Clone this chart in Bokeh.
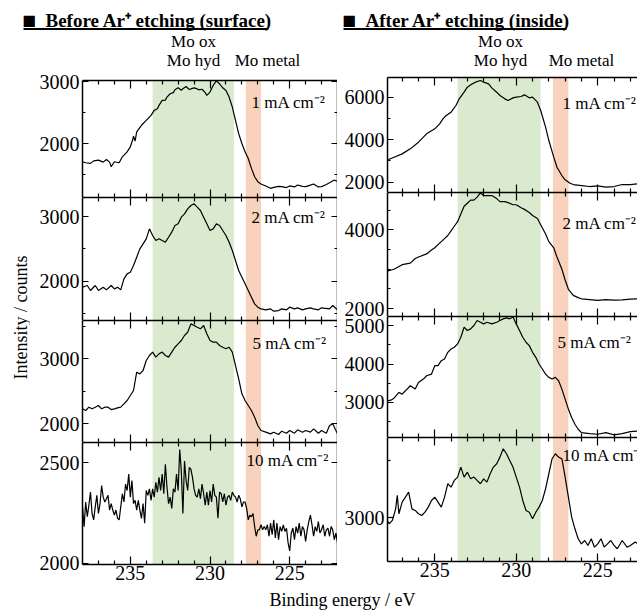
from math import pi

from bokeh.plotting import figure
from bokeh.layouts import row, column
from bokeh.models import Range1d, LinearAxis, FixedTicker, Label
from bokeh.embed import file_html
from bokeh.resources import INLINE

# ---------------------------------------------------------------------------
# Mo 3d XPS spectra: binding energy (eV) and intensity (counts)
# "b" = before Ar+ etching (surface), "a" = after Ar+ etching (inside)
# ---------------------------------------------------------------------------
be_b1 = [238.0, 237.8, 237.5, 237.3, 237.0, 236.7, 236.5, 236.3, 236.2, 236.0,
         235.7, 235.5, 235.2, 235.0, 234.85, 234.8, 234.7, 234.6, 234.3, 234.0,
         233.7, 233.5, 233.3, 233.2, 233.0, 232.8, 232.7, 232.5, 232.3, 232.2,
         232.0, 231.8, 231.7, 231.5, 231.3, 231.2, 231.0, 230.8, 230.7, 230.5,
         230.3, 230.2, 230.0, 229.8, 229.6, 229.4, 229.2, 229.0, 228.8, 228.6,
         228.4, 228.2, 228.0, 227.8, 227.6, 227.4, 227.2, 227.0, 226.8, 226.5,
         226.2, 226.0, 225.7, 225.5, 225.2, 225.0, 224.7, 224.5, 224.2, 224.0,
         223.7, 223.5, 223.2, 223.0, 222.7, 222.5, 222.2, 222.0]
cps_b1 = [1706, 1690, 1680, 1720, 1733, 1700, 1743, 1700, 1626, 1706,
          1690, 1786, 1866, 1947, 2060, 2120, 2040, 2187, 2294, 2374,
          2455, 2535, 2560, 2615, 2695, 2700, 2749, 2802, 2820, 2866,
          2898, 2860, 2882, 2920, 2870, 2882, 2898, 2880, 2866, 2875,
          2820, 2775, 2829, 2936, 3010, 2963, 2898, 2856, 2749, 2588,
          2374, 2160, 2000, 1866, 1759, 1599, 1465, 1385, 1348, 1316,
          1278, 1294, 1310, 1305, 1290, 1316, 1300, 1332, 1310, 1305,
          1330, 1348, 1300, 1305, 1340, 1369, 1412, 1385]

be_b2 = [238.0, 237.7, 237.5, 237.2, 237.0, 236.7, 236.5, 236.2, 236.0, 235.8,
         235.6, 235.4, 235.2, 235.0, 234.8, 234.6, 234.4, 234.2, 234.0, 233.8,
         233.6, 233.4, 233.2, 233.0, 232.8, 232.6, 232.4, 232.2, 232.0, 231.8,
         231.6, 231.4, 231.2, 231.0, 230.8, 230.6, 230.4, 230.2, 230.0, 229.8,
         229.6, 229.4, 229.2, 229.0, 228.8, 228.6, 228.4, 228.2, 228.0, 227.8,
         227.6, 227.4, 227.2, 227.0, 226.8, 226.5, 226.2, 226.0, 225.7, 225.5,
         225.2, 225.0, 224.7, 224.5, 224.2, 224.0, 223.7, 223.5, 223.2, 223.0,
         222.5, 222.3, 222.0]
cps_b2 = [1907, 1933, 1856, 1933, 1856, 1907, 1866, 1933, 1881, 1907,
          1866, 2036, 2113, 2139, 2242, 2371, 2500, 2577, 2655, 2809,
          2706, 2629, 2655, 2629, 2603, 2680, 2758, 2861, 2887, 2990,
          3041, 3119, 3170, 3196, 3144, 3093, 2990, 2887, 2784, 2809,
          2887, 2861, 2784, 2706, 2603, 2474, 2320, 2165, 2062, 1959,
          1856, 1753, 1649, 1598, 1572, 1557, 1572, 1536, 1546, 1572,
          1557, 1598, 1572, 1588, 1557, 1572, 1588, 1572, 1557, 1588,
          1572, 1624, 1557]

be_b5 = [238.0, 237.8, 237.6, 237.4, 237.2, 237.0, 236.8, 236.6, 236.4, 236.2,
         236.0, 235.8, 235.6, 235.4, 235.2, 235.0, 234.8, 234.6, 234.4, 234.2,
         234.0, 233.8, 233.6, 233.4, 233.2, 233.0, 232.8, 232.6, 232.4, 232.2,
         232.0, 231.8, 231.6, 231.4, 231.2, 231.0, 230.8, 230.6, 230.4, 230.2,
         230.0, 229.8, 229.6, 229.4, 229.2, 229.0, 228.8, 228.6, 228.4, 228.2,
         228.0, 227.8, 227.6, 227.4, 227.2, 227.0, 226.8, 226.5, 226.2, 226.0,
         225.7, 225.5, 225.2, 225.0, 224.7, 224.5, 224.2, 224.0, 223.7, 223.5,
         223.2, 223.0, 222.7, 222.5, 222.3, 222.0]
cps_b5 = [2231, 2205, 2256, 2231, 2256, 2282, 2231, 2256, 2256, 2220,
          2231, 2246, 2256, 2308, 2359, 2436, 2513, 2795, 2769, 2821,
          2974, 3051, 3103, 3026, 3077, 3103, 3051, 3026, 3103, 3179,
          3231, 3282, 3359, 3410, 3538, 3513, 3487, 3462, 3513, 3385,
          3282, 3256, 3256, 3205, 3179, 3154, 3179, 3103, 2897, 2692,
          2462, 2359, 2282, 2205, 2103, 1974, 1897, 1872, 1846, 1872,
          1836, 1887, 1856, 1897, 1856, 1908, 1872, 1897, 1872, 1923,
          1856, 1897, 1856, 1974, 2000, 1846]

be_b10 = [238.0, 237.9, 237.8, 237.7, 237.6, 237.5, 237.4, 237.3, 237.2, 237.1,
          237.0, 236.9, 236.8, 236.7, 236.6, 236.5, 236.4, 236.3, 236.2, 236.1,
          236.0, 235.9, 235.8, 235.7, 235.6, 235.5, 235.4, 235.3, 235.2, 235.1,
          235.0, 234.9, 234.8, 234.7, 234.6, 234.5, 234.4, 234.3, 234.2, 234.1,
          234.0, 233.9, 233.8, 233.7, 233.6, 233.5, 233.4, 233.3, 233.2, 233.1,
          233.0, 232.9, 232.8, 232.7, 232.6, 232.5, 232.4, 232.3, 232.2, 232.1,
          232.0, 231.9, 231.8, 231.7, 231.6, 231.5, 231.4, 231.3, 231.2, 231.1,
          231.0, 230.9, 230.8, 230.7, 230.6, 230.5, 230.4, 230.3, 230.2, 230.1,
          230.0, 229.9, 229.8, 229.7, 229.6, 229.5, 229.4, 229.3, 229.2, 229.1,
          229.0, 228.9, 228.8, 228.7, 228.6, 228.5, 228.4, 228.3, 228.2, 228.1,
          228.0, 227.9, 227.8, 227.7, 227.6, 227.5, 227.4, 227.3, 227.2, 227.1,
          227.0, 226.9, 226.8, 226.7, 226.6, 226.5, 226.4, 226.3, 226.2, 226.1,
          226.0, 225.9, 225.8, 225.7, 225.6, 225.5, 225.4, 225.3, 225.2, 225.1,
          225.0, 224.9, 224.8, 224.7, 224.6, 224.5, 224.4, 224.3, 224.2, 224.1,
          224.0, 223.9, 223.8, 223.7, 223.6, 223.5, 223.4, 223.3, 223.2, 223.1,
          223.0, 222.9, 222.8, 222.7, 222.6, 222.5, 222.4, 222.3, 222.2, 222.1,
          222.0]
cps_b10 = [2281, 2183, 2305, 2232, 2289, 2354, 2248, 2216, 2281, 2338,
           2248, 2297, 2386, 2329, 2305, 2321, 2338, 2265, 2297, 2265,
           2240, 2265, 2224, 2216, 2281, 2346, 2305, 2394, 2362, 2443,
           2329, 2411, 2297, 2313, 2265, 2313, 2265, 2224, 2297, 2200,
           2362, 2338, 2370, 2313, 2370, 2329, 2403, 2354, 2427, 2362,
           2443, 2346, 2492, 2378, 2297, 2329, 2273, 2370, 2354, 2443,
           2362, 2565, 2459, 2248, 2508, 2411, 2362, 2476, 2468, 2427,
           2370, 2338, 2329, 2370, 2321, 2394, 2346, 2289, 2354, 2289,
           2362, 2305, 2394, 2338, 2329, 2224, 2354, 2346, 2305, 2346,
           2289, 2329, 2338, 2313, 2354, 2338, 2329, 2305, 2338, 2321,
           2281, 2305, 2305, 2273, 2216, 2240, 2232, 2248, 2183, 2135,
           2167, 2167, 2192, 2167, 2183, 2167, 2192, 2135, 2200, 2143,
           2216, 2127, 2200, 2118, 2183, 2159, 2192, 2159, 2175, 2102,
           2062, 2151, 2175, 2118, 2183, 2151, 2200, 2135, 2183, 2167,
           2110, 2167, 2208, 2240, 2192, 2135, 2183, 2159, 2208, 2151,
           2167, 2192, 2135, 2167, 2175, 2135, 2183, 2167, 2118, 2151,
           2102]

be_a1 = [238.0, 237.5, 237.0, 236.5, 236.0, 235.7, 235.5, 235.0, 234.7, 234.5,
         234.3, 234.0, 233.7, 233.5, 233.2, 233.0, 232.7, 232.5, 232.2, 232.0,
         231.7, 231.5, 231.2, 231.0, 230.7, 230.5, 230.2, 230.0, 229.7, 229.5,
         229.2, 229.0, 228.7, 228.5, 228.2, 228.0, 227.7, 227.5, 227.2, 227.0,
         226.7, 226.5, 226.0, 225.5, 225.0, 224.5, 224.0, 223.5, 223.0, 222.5,
         222.0]
cps_a1 = [3020, 3177, 3333, 3569, 3883, 4118, 4275, 4510, 4745, 4981,
          5138, 5295, 5609, 5922, 6236, 6472, 6628, 6707, 6785, 6707,
          6628, 6440, 6236, 6079, 5922, 5844, 5969, 6001, 6032, 6110,
          5969, 6001, 5765, 5373, 4589, 3961, 3177, 2706, 2314, 2110,
          1953, 1890, 1843, 1796, 1827, 1765, 1796, 1890, 1890, 1922,
          1900]

be_a2 = [238.0, 237.5, 237.0, 236.5, 236.2, 236.0, 235.5, 235.2, 235.0, 234.7,
         234.5, 234.2, 234.0, 233.8, 233.6, 233.4, 233.2, 233.0, 232.8, 232.6,
         232.4, 232.2, 232.0, 231.8, 231.5, 231.2, 231.0, 230.7, 230.5, 230.2,
         230.0, 229.7, 229.5, 229.2, 229.0, 228.7, 228.5, 228.2, 228.0, 227.7,
         227.5, 227.2, 227.0, 226.8, 226.5, 226.2, 226.0, 225.5, 225.0, 224.5,
         224.0, 223.5, 223.0, 222.5, 222.0]
cps_a2 = [2945, 3000, 3117, 3156, 3273, 3312, 3391, 3492, 3547, 3664,
          3742, 3859, 3977, 4094, 4211, 4406, 4602, 4680, 4758, 4758,
          4836, 4940, 4875, 4875, 4875, 4797, 4719, 4719, 4695, 4641,
          4641, 4563, 4523, 4445, 4367, 4289, 4133, 3898, 3703, 3547,
          3312, 3000, 2727, 2492, 2336, 2280, 2250, 2230, 2210, 2230,
          2215, 2225, 2240, 2250, 2240]

be_a5 = [238.0, 237.7, 237.5, 237.2, 237.0, 236.8, 236.5, 236.2, 236.0, 235.7,
         235.5, 235.2, 235.0, 234.8, 234.6, 234.4, 234.2, 234.0, 233.8, 233.6,
         233.4, 233.2, 233.0, 232.8, 232.6, 232.4, 232.2, 232.0, 231.8, 231.5,
         231.2, 231.0, 230.8, 230.6, 230.4, 230.2, 230.0, 229.8, 229.6, 229.4,
         229.2, 229.0, 228.8, 228.6, 228.4, 228.2, 228.0, 227.8, 227.6, 227.4,
         227.2, 227.0, 226.8, 226.6, 226.4, 226.2, 226.0, 225.5, 225.0, 224.5,
         224.0, 223.5, 223.0, 222.5, 222.0]
cps_a5 = [3026, 3061, 3113, 3261, 3217, 3304, 3435, 3348, 3522, 3609,
          3696, 3739, 3957, 3957, 4087, 4130, 4304, 4391, 4435, 4522,
          4696, 4957, 4870, 4913, 5000, 5130, 5087, 5043, 5087, 5043,
          5087, 5130, 5174, 5200, 5174, 5220, 5043, 4870, 4696, 4565,
          4478, 4304, 4174, 4000, 3870, 3739, 3652, 3609, 3652, 3565,
          3348, 3087, 2826, 2609, 2435, 2304, 2217, 2191, 2174, 2217,
          2157, 2191, 2243, 2260, 2240]

be_a10 = [238.0, 237.8, 237.6, 237.4, 237.3, 237.2, 237.0, 236.8, 236.6, 236.4,
          236.2, 236.0, 235.8, 235.6, 235.4, 235.2, 235.0, 234.8, 234.6, 234.4,
          234.2, 234.0, 233.8, 233.6, 233.4, 233.2, 233.0, 232.8, 232.6, 232.4,
          232.2, 232.0, 231.8, 231.6, 231.4, 231.2, 231.0, 230.8, 230.6, 230.4,
          230.2, 230.0, 229.8, 229.6, 229.4, 229.2, 229.0, 228.8, 228.6, 228.4,
          228.2, 228.0, 227.8, 227.6, 227.4, 227.2, 227.0, 226.8, 226.6, 226.4,
          226.2, 226.0, 225.8, 225.6, 225.4, 225.2, 225.0, 224.8, 224.6, 224.4,
          224.2, 224.0, 223.8, 223.5, 223.2, 223.0, 222.7, 222.4, 222.0]
cps_a10 = [3000, 2948, 2977, 3078, 3195, 3035, 3137, 3180, 3224, 3078,
           3064, 3035, 3020, 3049, 3093, 3151, 3180, 3137, 3093, 3180,
           3297, 3267, 3326, 3355, 3442, 3355, 3398, 3340, 3355, 3326,
           3297, 3340, 3311, 3384, 3442, 3471, 3529, 3602, 3558, 3500,
           3442, 3355, 3267, 3151, 3064, 3049, 2991, 3049, 3093, 3151,
           3253, 3384, 3515, 3558, 3529, 3515, 3355, 3180, 3006, 2904,
           2817, 2773, 2802, 2759, 2817, 2744, 2773, 2817, 2744, 2773,
           2802, 2759, 2730, 2802, 2744, 2759, 2788, 2760, 2775]

current_tags = ["1 mA cm\u207b\u00b2", "2 mA cm\u207b\u00b2",
                "5 mA cm\u207b\u00b2", "10 mA cm\u207b\u00b2"]

# chemical-state windows (eV)
MO_OX_HYD = [233.6, 228.5]
MO_METAL = [227.75, 226.8]

X_MAJOR = [235, 230, 225]
X_MINOR = [237, 236, 234, 233, 232, 231, 229, 228, 227, 226, 224, 223]

SERIF = "Liberation Serif"
GREEN = "#d9eacf"
ORANGE = "#f8d2bd"
INK = "black"

HEAD_H = 70      # header strip above the panels
BODY_H = 518     # panel block incl. x tick labels
FOOT_H = 25      # strip holding the shared x-axis title


def bare(width, height):
    """Axis-less canvas measured in pixels, origin at the top-left."""
    p = figure(frame_width=width, frame_height=height,
               x_range=Range1d(0, width), y_range=Range1d(height, 0),
               x_axis_location=None, y_axis_location=None,
               output_backend="svg", toolbar_location=None,
               min_border_left=0, min_border_right=0,
               min_border_top=0, min_border_bottom=0)
    p.outline_line_color = None
    p.grid.visible = False
    return p


def add_axis(p, place, major, minor, tick_in, minor_in, labelled):
    ax = LinearAxis(ticker=FixedTicker(ticks=major, minor_ticks=minor))
    ax.axis_line_color = INK
    ax.axis_line_width = 1.5
    ax.major_tick_in = tick_in
    ax.major_tick_out = 0
    ax.minor_tick_in = minor_in
    ax.minor_tick_out = 0
    ax.major_tick_line_color = INK
    ax.minor_tick_line_color = INK
    ax.major_tick_line_width = 1.2
    ax.minor_tick_line_width = 1.2
    if labelled:
        ax.major_label_text_font = SERIF
        ax.major_label_text_font_size = "20px"
        ax.major_label_text_color = INK
        ax.major_label_standoff = 1 if place == "below" else 3
    else:
        ax.major_label_text_font_size = "0px"
        ax.major_label_text_color = None
        ax.major_label_standoff = 0
    p.add_layout(ax, place)


def panel(be, cps, x_rng, y_rng, y_major, y_minor, fw, fh, tag, tag_x, tag_dy,
          pad_left, pad_top=0, pad_bottom=0, mirror_right=True, x_labels=False):
    p = figure(frame_width=fw, frame_height=fh,
               x_range=Range1d(*x_rng), y_range=Range1d(*y_rng),
               x_axis_location=None, y_axis_location=None,
               output_backend="svg", toolbar_location=None,
               min_border_left=pad_left, min_border_right=0,
               min_border_top=pad_top, min_border_bottom=pad_bottom)
    p.outline_line_color = None
    p.grid.visible = False
    lo, hi = y_rng
    p.varea(x=MO_OX_HYD, y1=[lo, lo], y2=[hi, hi], fill_color=GREEN)
    p.varea(x=MO_METAL, y1=[lo, lo], y2=[hi, hi], fill_color=ORANGE)
    p.line(be, cps, line_color=INK, line_width=1.2)
    add_axis(p, "left", y_major, y_minor, 6, 3, True)
    if mirror_right:
        add_axis(p, "right", y_major, y_minor, 6, 3, False)
    add_axis(p, "above", X_MAJOR, X_MINOR, 8, 4, False)
    add_axis(p, "below", X_MAJOR, X_MINOR, 8, 4, x_labels)
    y_tag = hi - tag_dy * (hi - lo) / fh
    p.add_layout(Label(x=tag_x, y=y_tag, text=tag, text_font=SERIF,
                       text_font_size="17px", text_baseline="middle",
                       text_color=INK))
    return p


# ---- left column: before etching ----
XL = (238.0, 222.0)
left = [
    panel(be_b1, cps_b1, XL, (1130, 3016), [2000, 3000], [1500, 2500], 255, 117,
          current_tags[0], 227.4, 22, 52, pad_top=10),
    panel(be_b2, cps_b2, XL, (1392, 3294), [2000, 3000], [1500, 2500], 255, 123,
          current_tags[1], 227.4, 20, 52),
    panel(be_b5, cps_b5, XL, (1713, 3590), [2000, 3000], [2500, 3500], 255, 122,
          current_tags[2], 227.33, 23, 52),
    panel(be_b10, cps_b10, XL, (1995, 2600), [2000, 2500], [], 255, 122,
          current_tags[3], 227.71, 18, 52, pad_bottom=24, x_labels=True),
]

# ---- right column: after etching ----
XR = (237.9, 222.56)
right = [
    panel(be_a1, cps_a1, XR, (1515, 6927), [2000, 4000, 6000], [3000, 5000], 250, 115,
          current_tags[0], 227.16, 26, 50, pad_top=7, mirror_right=False),
    panel(be_a2, cps_a2, XR, (1800, 4952), [2000, 4000], [2500, 3000, 3500, 4500], 250, 124,
          current_tags[1], 227.16, 31, 50, mirror_right=False),
    panel(be_a5, cps_a5, XR, (2090, 5235), [3000, 4000, 5000], [2500, 3500, 4500], 250, 121,
          current_tags[2], 227.47, 26, 50, mirror_right=False),
    panel(be_a10, cps_a10, XR, (2619, 3700), [3000], [3500], 250, 124,
          current_tags[3], 227.16, 18, 50, pad_bottom=27, mirror_right=False,
          x_labels=True),
]

# ---- header: section titles and chemical-state captions ----
header = bare(637, HEAD_H)
for x0, x1, title in [(23, 268, "Before Ar\u207a etching (surface)"),
                      (343, 566, "After Ar\u207a etching (inside)")]:
    header.add_layout(Label(x=x0 - 1, y=19.5, text="\u25a0", text_font=SERIF,
                            text_font_size="23px", text_color=INK,
                            text_baseline="middle"))
    header.add_layout(Label(x=x0 + 22, y=19.5, text=title, text_font=SERIF,
                            text_font_size="19px", text_font_style="bold",
                            text_color=INK, text_baseline="middle"))
    header.segment(x0=[x0], y0=[28.5], x1=[x1], y1=[28.5], line_color=INK,
                   line_width=1.8)

for cx_state, cx_metal in [(193, 267), (500, 581)]:
    for txt, cx, cy in [("Mo ox", cx_state, 40.5), ("Mo hyd", cx_state, 60),
                        ("Mo metal", cx_metal, 60)]:
        header.add_layout(Label(x=cx, y=cy, text=txt, text_font=SERIF,
                                text_font_size="17px", text_color=INK,
                                text_align="center", text_baseline="middle"))

# ---- shared axis titles ----
side = bare(30, BODY_H)
side.add_layout(Label(x=20, y=317 - HEAD_H, text="Intensity / counts", angle=pi / 2,
                      text_font=SERIF, text_font_size="18px", text_color=INK,
                      text_align="center", text_baseline="middle"))

footer = bare(637, FOOT_H)
footer.add_layout(Label(x=342, y=11, text="Binding energy / eV", text_font=SERIF,
                        text_font_size="18px", text_color=INK,
                        text_align="center", text_baseline="middle"))

page = column(header, row(side, column(*left), column(*right)), footer)

open("out.html", "w").write(file_html(page, INLINE, "Mo 3d XPS"))
